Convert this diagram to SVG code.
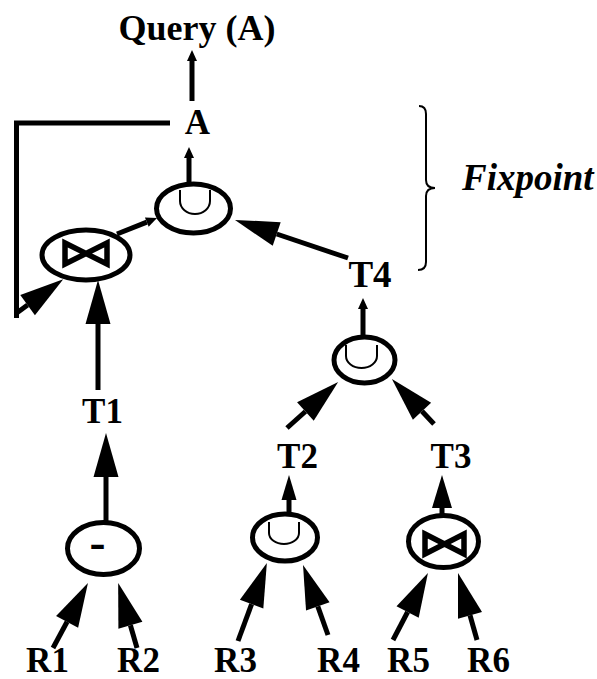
<svg xmlns="http://www.w3.org/2000/svg" width="597" height="679" viewBox="0 0 597 679">
  <style>
    .lbl { font-family: "Liberation Serif", "Times New Roman", serif; font-weight: bold; font-size: 35px; fill: #000; text-anchor: middle; }
    .op { fill: none; stroke: #000; stroke-width: 5; }
    .cup { fill: none; stroke: #000; stroke-width: 2; }
    .bow { fill: none; stroke: #000; stroke-width: 5.5; stroke-linejoin: miter; }
    .edge { fill: none; stroke: #000; stroke-width: 5; }
    .big { marker-end: url(#headBig); }
    .mid2 { marker-end: url(#headMid2); }
    .mid3 { marker-end: url(#headMid3); }
    .small { marker-end: url(#headSmall); }
  </style>
  <defs>
    <!-- arrowheads start at the line end and extend forward -->
    <marker id="headBig" markerUnits="userSpaceOnUse" orient="auto" overflow="visible" refX="0" refY="12.5" markerWidth="44" markerHeight="25">
      <path d="M0,0 L44,12.5 L0,25 Z" fill="#000"/>
    </marker>
    <marker id="headMid2" markerUnits="userSpaceOnUse" orient="auto" overflow="visible" refX="0" refY="7.5" markerWidth="25" markerHeight="15">
      <path d="M0,0 L25,7.5 L0,15 Z" fill="#000"/>
    </marker>
    <marker id="headMid3" markerUnits="userSpaceOnUse" orient="auto" overflow="visible" refX="0" refY="10" markerWidth="33" markerHeight="20">
      <path d="M0,0 L33,10 L0,20 Z" fill="#000"/>
    </marker>
    <marker id="headSmall" markerUnits="userSpaceOnUse" orient="auto" overflow="visible" refX="0" refY="5" markerWidth="11" markerHeight="10">
      <path d="M0,0 L11,5 L0,10 Z" fill="#000"/>
    </marker>
  </defs>

  <!-- connectors -->
  <g id="connectors">
    <line class="edge small" x1="192" y1="101" x2="192" y2="61"/>
    <line class="edge small" x1="189" y1="183" x2="189" y2="158"/>
    <line class="edge small" x1="117" y1="234" x2="146.8" y2="222.1"/>
    <line class="edge big" x1="348" y1="258" x2="276.7" y2="234"/>
    <line class="edge small" x1="363" y1="336" x2="363" y2="309"/>
    <line class="edge big" x1="98" y1="390" x2="98" y2="324"/>
    <path class="edge" d="M170,123 H16.5 V318"/>
    <line class="edge big" x1="16" y1="313.5" x2="27.6" y2="305.1"/>
    <line class="edge big" x1="106" y1="521" x2="106" y2="477"/>
    <line class="edge big" x1="287" y1="428" x2="305.4" y2="411.5"/>
    <line class="edge big" x1="434" y1="424" x2="422" y2="411.2"/>
    <line class="edge mid2" x1="289" y1="513" x2="289" y2="500"/>
    <line class="edge mid3" x1="442" y1="515" x2="442" y2="508"/>
    <line class="edge big" x1="53" y1="648" x2="67.1" y2="621.8"/>
    <line class="edge big" x1="137" y1="648" x2="130.4" y2="625.2"/>
    <line class="edge big" x1="238" y1="641" x2="251.6" y2="604.2"/>
    <line class="edge big" x1="328" y1="635" x2="317.8" y2="606.4"/>
    <line class="edge big" x1="393" y1="640" x2="407.6" y2="612"/>
    <line class="edge big" x1="477" y1="640" x2="470" y2="615.3"/>
  </g>

  <!-- fixpoint brace -->
  <g id="fixpoint">
    <path d="M419,106 Q426,106 426,114 V180 Q426,188 435,188 Q426,188 426,196 V262 Q426,270 418,270" fill="none" stroke="#000" stroke-width="2"/>
    <text x="462" y="190" style="font-family: 'Liberation Serif', 'Times New Roman', serif; font-weight: bold; font-style: italic; font-size: 37px;">Fixpoint</text>
  </g>

  <!-- labels -->
  <g id="query"><text class="lbl" x="197" y="40" style="font-size:36px">Query (A)</text></g>
  <g id="a"><text class="lbl" x="197.5" y="134">A</text></g>
  <g id="t4"><text class="lbl" x="370" y="287" style="font-size:37px">T4</text></g>
  <g id="t1"><text class="lbl" x="102.5" y="423">T1</text></g>
  <g id="t2"><text class="lbl" x="297.5" y="468">T2</text></g>
  <g id="t3"><text class="lbl" x="451" y="468">T3</text></g>
  <g id="r1"><text class="lbl" x="47.5" y="672">R1</text></g>
  <g id="r2"><text class="lbl" x="138.5" y="672">R2</text></g>
  <g id="r3"><text class="lbl" x="235.5" y="672">R3</text></g>
  <g id="r4"><text class="lbl" x="338.5" y="672">R4</text></g>
  <g id="r5"><text class="lbl" x="408.5" y="672">R5</text></g>
  <g id="r6"><text class="lbl" x="488.5" y="672">R6</text></g>

  <!-- operators -->
  <g id="union-top">
    <ellipse class="op" cx="193.5" cy="208.5" rx="37" ry="24.5"/>
    <path class="cup" d="M180,190 V201 A15,13 0 0 0 210,201 V190"/>
  </g>
  <g id="join-top">
    <ellipse class="op" cx="86" cy="255" rx="44" ry="25"/>
    <path class="bow" d="M65,243 L107,264 L107,243 L65,264 Z"/>
  </g>
  <g id="union-mid">
    <ellipse class="op" cx="364.5" cy="360" rx="30.5" ry="23"/>
    <path class="cup" d="M346,345 V356 A15.5,12 0 0 0 377,356 V345"/>
  </g>
  <g id="union-bottom">
    <ellipse class="op" cx="285" cy="537.5" rx="32.5" ry="23.5"/>
    <path class="cup" d="M269,522 V533 A15,11 0 0 0 299,533 V522"/>
  </g>
  <g id="minus">
    <ellipse class="op" cx="103.5" cy="548.5" rx="36" ry="26"/>
    <text class="lbl" x="97.5" y="558" style="font-size:48px">-</text>
  </g>
  <g id="join-bottom">
    <ellipse class="op" cx="443.5" cy="541.5" rx="35" ry="26"/>
    <path class="bow" d="M425,534 L464,554 L464,534 L425,554 Z"/>
  </g>
</svg>
